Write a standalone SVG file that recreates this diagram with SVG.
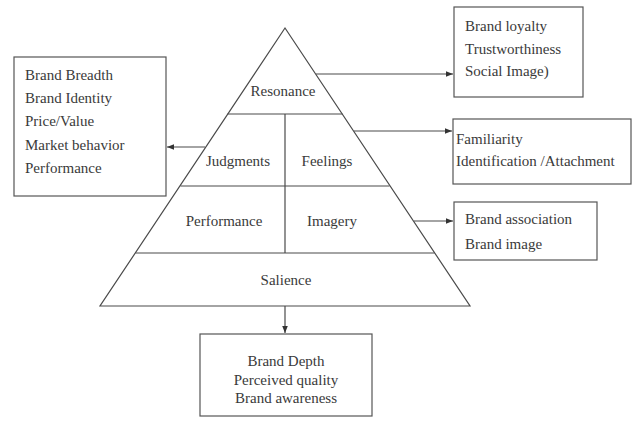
<svg xmlns="http://www.w3.org/2000/svg" width="638" height="421" viewBox="0 0 638 421">
<style>
.ln{stroke:#4a4a4a;stroke-width:1.2;fill:none}
.bx{stroke:#555;stroke-width:1.2;fill:#fff}
text{font-family:"Liberation Serif","Times New Roman",serif;font-size:15px;fill:#3a3a3a}
.c{text-anchor:middle}
</style>
<defs>
<marker id="ah" viewBox="0 0 10 10" refX="10" refY="5" markerWidth="6" markerHeight="6" orient="auto">
<path d="M0,1 L10,5 L0,9 z" fill="#333"/>
</marker>
</defs>
<rect width="638" height="421" fill="#fff"/>
<g id="pyramid">
<polygon class="ln" points="285,28 470,306 100,306"/>
<line class="ln" x1="227.5" y1="114" x2="342.5" y2="114"/>
<line class="ln" x1="180.5" y1="186" x2="389.5" y2="186"/>
<line class="ln" x1="135.5" y1="253" x2="434.5" y2="253"/>
<line class="ln" x1="285" y1="114" x2="285" y2="253"/>
<text class="c" x="283" y="96">Resonance</text>
<text class="c" x="238" y="166">Judgments</text>
<text class="c" x="327" y="166">Feelings</text>
<text class="c" x="224" y="226">Performance</text>
<text class="c" x="332" y="226">Imagery</text>
<text class="c" x="286" y="285">Salience</text>
</g>
<g id="box-left">
<rect class="bx" x="14" y="57" width="152" height="139"/>
<text x="25" y="80">Brand Breadth</text>
<text x="25" y="103">Brand Identity</text>
<text x="25" y="126">Price/Value</text>
<text x="25" y="150">Market behavior</text>
<text x="25" y="173">Performance</text>
</g>
<g id="box-resonance">
<rect class="bx" x="454" y="7" width="129" height="90"/>
<text x="465" y="31">Brand loyalty</text>
<text x="465" y="54">Trustworthiness</text>
<text x="465" y="76">Social Image)</text>
</g>
<g id="box-feelings">
<rect class="bx" x="453" y="119" width="178" height="65"/>
<text x="456" y="144">Familiarity</text>
<text x="456" y="166">Identification /Attachment</text>
</g>
<g id="box-imagery">
<rect class="bx" x="454" y="202" width="143" height="58"/>
<text x="465" y="224">Brand association</text>
<text x="465" y="249">Brand image</text>
</g>
<g id="box-salience">
<rect class="bx" x="200" y="334" width="172" height="82"/>
<text class="c" x="286" y="366">Brand Depth</text>
<text class="c" x="286" y="385">Perceived quality</text>
<text class="c" x="286" y="403">Brand awareness</text>
</g>
<g id="connectors">
<line class="ln" x1="316" y1="74" x2="453" y2="74" marker-end="url(#ah)"/>
<line class="ln" x1="354" y1="131" x2="452" y2="131" marker-end="url(#ah)"/>
<line class="ln" x1="414" y1="221" x2="453" y2="221" marker-end="url(#ah)"/>
<line class="ln" x1="205" y1="147" x2="167" y2="147" marker-end="url(#ah)"/>
<line class="ln" x1="285" y1="306" x2="285" y2="333" marker-end="url(#ah)"/>
</g>
</svg>
